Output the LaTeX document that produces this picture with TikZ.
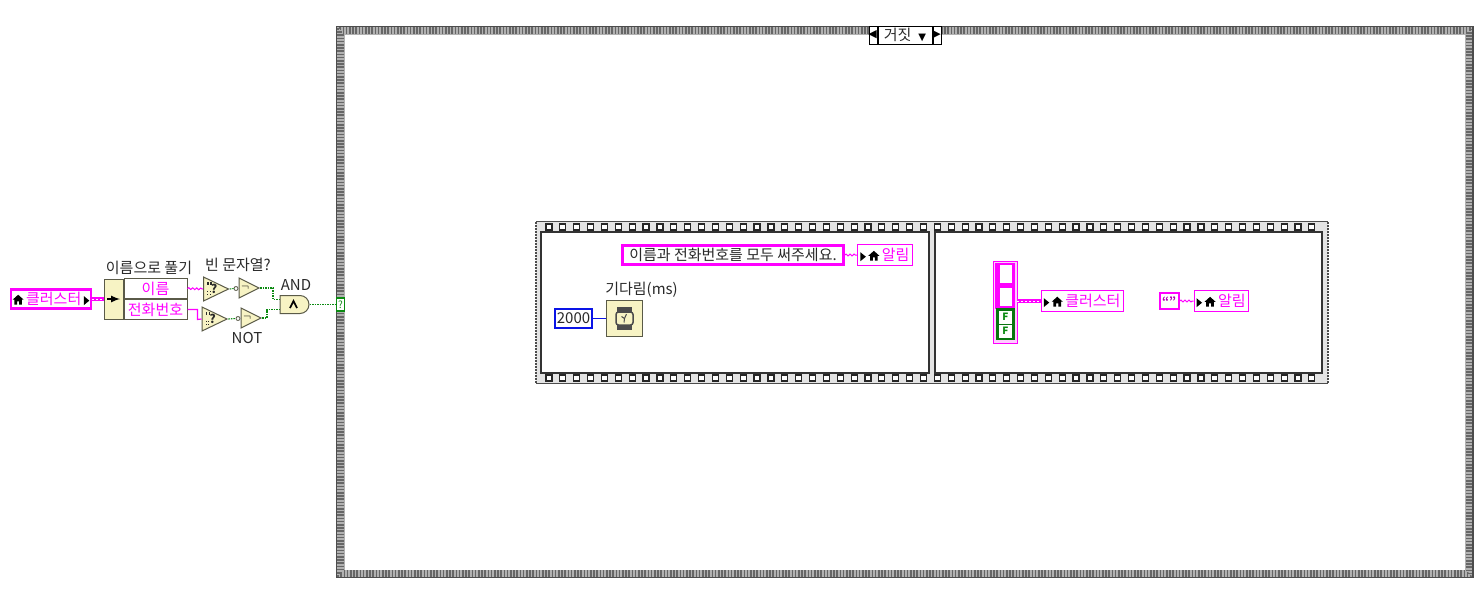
\documentclass[tikz,border=0pt]{standalone}
\usepackage{amsmath,amssymb}
\usepackage{fontspec}
\setmainfont{Noto Sans CJK KR}
\newfontfamily\symf{DejaVu Sans}
\usetikzlibrary{positioning,shapes.geometric,shapes.misc,decorations.pathmorphing}
\definecolor{lvpink}{HTML}{FF00FF}
\definecolor{lvbeige}{HTML}{F7F3C4}
\definecolor{lvedge}{HTML}{5A5A48}
\definecolor{lvgreen}{HTML}{0B8A12}
\definecolor{lvblue}{HTML}{0A14E6}
\definecolor{ink}{HTML}{2A2A2A}
\definecolor{filmbg}{HTML}{E4E4E4}
\newcommand{\homeic}{\tikz[baseline=0pt,x=1.1pt,y=1.1pt]{\fill[black] (0,4.5)--(5,9)--(10,4.5)--(8.5,4.5)--(8.5,0)--(6,0)--(6,3)--(4,3)--(4,0)--(1.5,0)--(1.5,4.5)--cycle;}}
\newcommand{\arric}{\tikz[baseline=0.5pt,x=1pt,y=1pt]{\fill[black] (0,0)--(5.5,4.5)--(0,9)--cycle;}}
\tikzset{
  lblk/.style={font=\fontsize{15}{17}\selectfont,text=ink,inner sep=0pt},
  rdlocal/.style={rectangle,draw=lvpink,fill=white,line width=2.2pt,text=lvpink,
    font=\fontsize{15}{17}\selectfont,inner sep=0pt,minimum height=18pt},
  wrlocal/.style={rectangle,draw=lvpink,fill=white,line width=1.2pt,text=lvpink,
    font=\fontsize{15}{17}\selectfont,inner sep=0pt,minimum height=21pt},
  strconst/.style={rectangle,draw=lvpink,fill=white,line width=2.6pt,text=ink,
    font=\fontsize{15}{17}\selectfont,inner sep=0pt},
  unbrow/.style={rectangle,draw=lvedge,fill=white,line width=1pt,minimum width=63pt,minimum height=20pt,
    inner sep=0pt,text=lvpink,font=\fontsize{15}{17}\selectfont},
  eqfn/.style={isosceles triangle,isosceles triangle stretches,shape border rotate=0,
    draw=lvedge,fill=lvbeige,line width=1pt,inner sep=0pt,minimum width=24pt,minimum height=25pt,
    anchor=lower side,font=\fontsize{12}{12}\bfseries\selectfont,text=ink},
  notfn/.style={isosceles triangle,isosceles triangle stretches,shape border rotate=0,
    draw=lvedge,fill=lvbeige,line width=1pt,inner sep=0pt,minimum width=20pt,minimum height=20pt,
    anchor=lower side,font=\fontsize{13}{13}\selectfont,text=black},
  notbub/.style={circle,draw=lvedge,fill=white,line width=0.8pt,minimum size=4pt,inner sep=0pt},
  selbtn/.style={rectangle,draw=black,fill=white,line width=1pt,minimum width=8pt,minimum height=18pt,inner sep=0pt},
  strw/.style={draw=lvpink,line width=1pt,decorate,decoration={snake,amplitude=0.9pt,segment length=4pt}},
  stepw/.style={draw=lvpink,line width=1.2pt},
  cluw/.style={draw=lvpink,line width=3.4pt,postaction={draw=white,line width=1pt,dash pattern=on 2pt off 2pt}},
  boolw/.style={draw=lvgreen,line width=1.1pt,dash pattern=on 1.5pt off 1pt},
  filmhole/.style={draw=black!85,fill=white,line width=1.2pt},
}
\begin{document}
\begin{tikzpicture}[x=1pt,y=-1pt]
  \useasboundingbox (0,0) rectangle (1482,598);
  \fill[white] (0,0) rectangle (1482,598);
  % case structure
  \draw[line width=8pt,draw=gray!60] (340.5,30.5) rectangle (1469,574);
  \foreach \d/\ph in {1.5/0,3.1/1.6,4.7/0,6.3/1.6}
    \draw[line width=1.6pt,draw=black!60,dash pattern=on 1.6pt off 1.6pt,dash phase=\ph pt] (336.5+\d,26.5+\d) rectangle (1473-\d,577.5-\d);
  \draw[line width=1.2pt,draw=black!70] (336.5,26.5) rectangle (1473,577.5);
  \node[rectangle,draw=black,fill=white,line width=1pt,minimum width=54pt,minimum height=18pt,inner sep=0pt] (selbox) at (905,35)
    {\fontsize{15}{17}\selectfont\textcolor{ink}{거짓}\hspace{7pt}{\symf\fontsize{10}{10}\selectfont ▼}};
  \node[selbtn,left=0pt of selbox] (selprev) {{\symf\fontsize{11}{11}\selectfont\hspace{-1pt}◀\hspace{-1pt}}};
  \node[selbtn,right=0pt of selbox] (selnext) {{\symf\fontsize{11}{11}\selectfont\hspace{-1pt}▶\hspace{-1pt}}};
  \node[rectangle,draw=lvgreen,fill=white,line width=1.2pt,minimum width=8pt,minimum height=13pt,inner sep=0pt,text=lvgreen,font=\fontsize{10}{10}\selectfont] (casesel) at (340.5,304.5) {?};
  % flat sequence
  \fill[filmbg] (536,222) rectangle (1328,384);
  \draw[line width=1.5pt,draw=black!70] (536,221.5) -- (1328,221.5) (536,383.5) -- (1328,383.5);
  \draw[line width=1.5pt,draw=black!70,dash pattern=on 1.5pt off 1.5pt] (536,222) -- (536,384) (1328,222) -- (1328,384);
  \foreach \i in {0,...,55}{
    \draw[filmhole] ({546+13.87*\i},224) rectangle ++(6,6);
    \draw[filmhole] ({546+13.87*\i},375) rectangle ++(6,6);
  }
  \draw[line width=1.6pt,draw=black!80,fill=white] (541,232) rectangle (929,373);
  \draw[line width=1.6pt,draw=black!80,fill=white] (935,232) rectangle (1322,373);
  % left side: cluster and unbundle
  \node[rdlocal,minimum width=80pt,minimum height=19pt] (cluin) at (51,299) {\homeic\,클러스터\,\textcolor{black}{\arric}};
  \node[rectangle,draw=lvedge,fill=lvbeige,line width=1pt,minimum width=19pt,minimum height=40pt,inner sep=0pt] (unb) at (113.5,299) {\tikz[x=1pt,y=1pt]{\draw[black,line width=2pt,-{latex}] (0,0)--(13,0);}};
  \node[unbrow,anchor=south west] (unbname) at (unb.east) {이름};
  \node[unbrow,anchor=north west] (unbtel) at (unb.east) {전화번호};
  \node[lblk] (unblbl) at (149,268) {이름으로 풀기};
  \node[eqfn] (eqa) at (203,289) {\hspace{7pt}?};
  \node[eqfn] (eqb) at (201.5,319) {\hspace{7pt}?};
  \node[notfn] (nota) at (238.5,288) {$\neg$};
  \node[notfn] (notb) at (240.5,318) {$\neg$};
  \foreach \n in {eqa,eqb}{
    \fill[ink] ([shift={(4,-7)}]\n.lower side) rectangle ++(1.5,2.5);
    \fill[ink] ([shift={(7,-7)}]\n.lower side) rectangle ++(1.5,2.5);
    \fill[ink] ([shift={(4,2)}]\n.lower side) rectangle ++(1.3,1.3);
    \fill[ink] ([shift={(6.5,2)}]\n.lower side) rectangle ++(1.3,1.3);
    \fill[ink] ([shift={(4,5)}]\n.lower side) rectangle ++(1.3,1.3);
    \fill[ink] ([shift={(6.5,5)}]\n.lower side) rectangle ++(1.3,1.3);
  }
  \node[rounded rectangle,rounded rectangle left arc=none,draw=lvedge,fill=lvbeige,line width=1pt,minimum width=29pt,minimum height=18pt,inner sep=0pt] (andfn) at (294.5,304.5) {};
  \draw[black,line width=1.7pt] ([shift={(-4.5,3.5)}]andfn.center) -- ++(3.5,-7) -- ++(3.5,7);
  \node[lblk] (emptylbl) at (238,265) {빈 문자열?};
  \node[lblk] (andlbl) at (296,285) {AND};
  \node[lblk] (notlbl) at (247,338) {NOT};
  \node[notbub] (bubnota) at (236,288.5) {};
  \node[notbub] (bubnotb) at (238,318.5) {};
  \draw[cluw] (cluin.east) -- (unb.west);
  \draw[strw] (unbname.east) -- (eqa.lower side);
  \draw[stepw] (unbtel.east) -- ++(10,0) -- ++(0,10) -- (eqb.lower side);
  \foreach \a/\b in {eqa/bubnota,eqb/bubnotb}
    \draw[boolw] (\a.apex) -- (\b.west);
  \draw[boolw] (nota.apex) -| (273,299.5) -- (andfn.west |- 0,299.5);
  \draw[boolw] (notb.apex) -| (267,309.5) -- (andfn.west |- 0,309.5);
  \draw[boolw] (andfn.east) -- (casesel.west);
  % first frame
  \node[strconst,minimum width=221pt,minimum height=19pt] (msg) at (733,255) {이름과 전화번호를 모두 써주세요.};
  \node[wrlocal,minimum width=55pt,right=12pt of msg] (alrma) {\textcolor{black}{\arric}\,\homeic\,알림};
  \draw[strw] (msg) -- (alrma);
  \node[lblk] (waitlbl) at (641.5,290) {기다림(ms)};
  \node[rectangle,draw=lvedge,fill=lvbeige,line width=1pt,minimum size=36pt,inner sep=0pt] (waitfn) at (624.5,318.5) {};
  \node[rectangle,draw=lvblue,fill=white,line width=2.2pt,minimum width=37pt,minimum height=19pt,inner sep=0pt,text=ink,font=\fontsize{15}{17}\selectfont] (msconst) at (573.5,318.5) {2000};
  \draw[draw=lvblue,line width=1.2pt] (msconst) -- (waitfn);
  \fill[black!70] ([shift={(-7.5,-11.5)}]waitfn.center) rectangle ++(15,23);
  \draw[black!70,fill=lvbeige,line width=1.5pt,rounded corners=2.5pt] ([shift={(-8.5,-6.5)}]waitfn.center) rectangle ++(17,13);
  \draw[black!70,line width=1pt] (waitfn.center) -- ++(2,-4.5) (waitfn.center) -- ++(-3,-2) (waitfn.center) -- ++(-0.5,4);
  % second frame
  \node[rectangle,draw=lvpink,fill=lvpink!20,line width=0.8pt,minimum width=24pt,minimum height=82pt,inner sep=0pt] (bunc) at (1005,302) {};
  \fill[lvpink] (995,263) rectangle (1015,309);
  \fill[white] (1000,265) rectangle (1012,283);
  \fill[white] (1000,288) rectangle (1012,306);
  \fill[lvgreen!85!black] (996,308) rectangle (1015,340);
  \foreach \y in {311,325}{
    \fill[white] (999,\y) rectangle ++(13,12.5);
    \node[text=lvgreen,font=\fontsize{10}{10}\bfseries\selectfont,inner sep=0pt] (flag\y) at (1005.5,\y+6.2) {F};
  }
  \node[wrlocal,minimum width=82pt,anchor=west] (clulcl) at (1040.5,301) {\textcolor{black}{\arric}\,\homeic\,클러스터};
  \draw[cluw] (bunc.east |- clulcl) -- (clulcl.west);
  \node[rectangle,draw=lvpink,fill=white,line width=2.2pt,minimum width=19pt,minimum height=16pt,inner sep=0pt,text=lvpink!70!black,font=\fontsize{11}{11}\bfseries\selectfont,text height=9pt,anchor=west] (emptystr) at (1158.5,301) {“”};
  \node[wrlocal,minimum width=54pt,anchor=west] (alrmb) at (1193.5,301) {\textcolor{black}{\arric}\,\homeic\,알림};
  \draw[strw] (emptystr) -- (alrmb);
\end{tikzpicture}
\end{document}
